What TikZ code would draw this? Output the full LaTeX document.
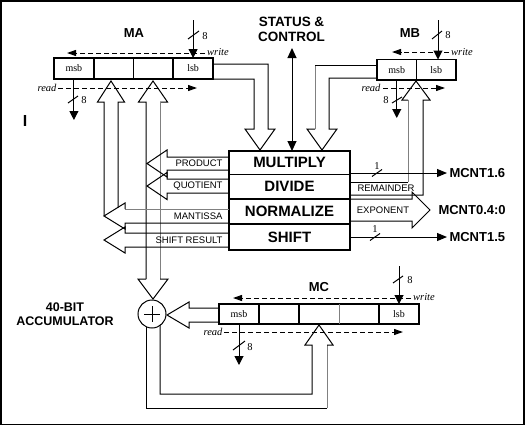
\documentclass[tikz,border=0pt]{standalone}
\usepackage{fontspec}
\setmainfont{Liberation Serif}
\newfontfamily\arial{Liberation Sans}
\usetikzlibrary{arrows.meta}
\begin{document}
\begin{tikzpicture}[x=1pt,y=-1pt,line width=1pt,
  rcell/.style={draw,line width=1.8pt,inner sep=0pt,outer sep=0pt,font=\fontsize{10}{10}\selectfont},
  bblk/.style={inner sep=0pt,outer sep=0pt,minimum width=121pt,font=\arial\bfseries\fontsize{15}{15}\selectfont},
  biglab/.style={font=\arial\bfseries\fontsize{13}{15}\selectfont,inner sep=0pt},
  smlab/.style={font=\arial\fontsize{9.5}{10}\selectfont,inner sep=0pt},
  numlab/.style={font=\fontsize{10.5}{10.5}\selectfont,inner sep=0pt},
  itlab/.style={font=\itshape\fontsize{10.5}{10.5}\selectfont,inner sep=0pt},
  sigarr/.style={-{Triangle[length=9pt,width=9pt]}},
  sigarrb/.style={-{Triangle[length=10pt,width=8pt]}},
  dsigarr/.style={dash pattern=on 5pt off 3pt,-{Triangle[length=9pt,width=6pt]}},
  mcntlab/.style={font=\arial\bfseries\fontsize{13}{13}\selectfont,inner sep=2pt,anchor=west},
  gline/.style={draw=gray}]
\useasboundingbox (0,0) rectangle (525,426);
\draw[line width=1.5pt] (0.75,0.75) rectangle (524,424.5);

% ---------- MA register ----------
\node[rcell,minimum width=39.75pt,minimum height=21pt] (ma1) at (73.9,68.5) {msb};
\node[rcell,minimum width=39.75pt,minimum height=21pt] (ma2) at (113.6,68.5) {};
\node[rcell,minimum width=39.75pt,minimum height=21pt] (ma3) at (153.4,68.5) {};
\node[rcell,minimum width=39.75pt,minimum height=21pt] (ma4) at (193.1,68.5) {lsb};
\node[biglab] (malab) at (134,33) {MA};
\coordinate (maw) at (193.1,20);
\draw[sigarr] (maw) -- (ma4.north);
\draw (188,39) -- (199,31);
\node[numlab] (ma8w) at (205,36) {8};
\coordinate (mawR) at (205,53);
\coordinate (mawL) at (67,53);
\draw[dsigarr] (mawR) -- (mawL);
\node[itlab] (mawt) at (218,52) {write};
\coordinate (marL) at (58,88);
\coordinate (marR) at (197,88);
\draw[dsigarr] (marL) -- (marR);
\node[itlab] (mart) at (47,88) {read};
\coordinate (mard) at (73.9,120);
\draw[sigarr] (ma1.south) -- (mard);
\draw (68,103) -- (78,96);
\node[numlab] (ma8r) at (84,100) {8};
\node[font=\arial\bfseries\fontsize{16}{16}\selectfont,inner sep=0pt] (stray) at (25,121) {I};

% ---------- MB register ----------
\node[rcell,minimum width=39.5pt,minimum height=20.5pt] (mb1) at (396.75,69.75) {msb};
\node[rcell,minimum width=39.5pt,minimum height=20.5pt] (mb2) at (436.25,69.75) {lsb};
\node[biglab] (mblab) at (410,33) {MB};
\coordinate (mbw) at (438,20);
\draw[sigarr] (mbw) -- (mbw |- mb2.north);
\draw (432,39) -- (442,31);
\node[numlab] (mb8w) at (448,35) {8};
\coordinate (mbwR) at (449,52);
\coordinate (mbwL) at (392,52);
\draw[dsigarr] (mbwR) -- (mbwL);
\node[itlab] (mbwt) at (462,52) {write};
\coordinate (mbrL) at (383,88);
\coordinate (mbrR) at (445,88);
\draw[dsigarr] (mbrL) -- (mbrR);
\node[itlab] (mbrt) at (371,88) {read};
\coordinate (mbrd) at (396.75,118);
\draw[sigarr] (mb1.south) -- (mbrd);
\draw (392,103) -- (402,97);
\node[numlab] (mb8r) at (386,100) {8};

% ---------- status & control ----------
\node[align=center,font=\arial\bfseries\fontsize{13.5}{15}\selectfont,inner sep=0pt] (sc) at (291.5,29.5) {STATUS \&\\CONTROL};

% ---------- main block ----------
\node[bblk,minimum height=23pt] (mul) at (289.5,162.5) {MULTIPLY};
\node[bblk,minimum height=25pt] (dvd) at (289.5,186.5) {DIVIDE};
\node[bblk,minimum height=25pt] (nrm) at (289.5,211.5) {NORMALIZE};
\node[bblk,minimum height=26pt] (shf) at (289.5,237) {SHIFT};
\draw[line width=1.8pt] (mul.north west) rectangle (shf.south east);
\draw[line width=1pt] (mul.south west) -- (mul.south east);
\draw[line width=1.8pt] (dvd.south west) -- (dvd.south east);
\draw[line width=1.8pt] (nrm.south west) -- (nrm.south east);

\coordinate (sct) at (292,48);
\draw[{Triangle[length=10pt,width=9pt]}-{Triangle[length=10pt,width=9pt]}] (sct) -- (sct |- mul.north);

% pipe MA -> block
\draw (213,79) -- (254,79) -- (254,129) -- (245,129) -- (260,150) -- (275,129) -- (268,129) -- (268,64) -- (213,64);
% pipe MB -> block
\draw (377,78) -- (329,78) -- (329,129) -- (337,129) -- (322,150) -- (307,129) -- (315,129);
\draw[gline] (315,129) -- (315,65);
\draw (315,65) -- (377,65);

% buses up to MA
\draw (104,216) -- (104,102) -- (97.5,102) -- (111,81) -- (124.5,102) -- (118,102) -- (118,207.5);
\draw (146,279) -- (146,102) -- (138.5,102) -- (153,81) -- (167.5,102) -- (160,102);
\draw[gline] (160,102) -- (160,279);
\draw (160,279) -- (168,279) -- (153,299) -- (138,279) -- (146,279);

% outputs to the left
\draw (229,157) -- (167,157) -- (167,150) -- (147,163.5) -- (167,177) -- (167,170) -- (229,170);
\draw (229,179) -- (167,179) -- (167,172.5) -- (147,186) -- (167,199.5) -- (167,193) -- (229,193);
\draw[gline] (229,209) -- (125,209);
\draw (125,209) -- (125,203) -- (104,216) -- (125,229) -- (125,223) -- (229,223);
\draw (229,233) -- (125,233) -- (125,227) -- (104,240) -- (125,253) -- (125,247) -- (229,247);
\node[smlab,anchor=east] (prodl) at (223,163.5) {PRODUCT};
\node[smlab,anchor=east] (quotl) at (223,186) {QUOTIENT};
\node[smlab,anchor=east] (mantl) at (223,216) {MANTISSA};
\node[smlab,anchor=east] (shrl) at (223,240) {SHIFT RESULT};

% remainder to MB
\draw (350,195) -- (423,195) -- (423,100) -- (430,100) -- (416,81) -- (402,100) -- (408,100);
\draw[gline] (408,100) -- (408,182);
\draw (408,182) -- (350,182);
\node[smlab] (reml) at (386,188.5) {REMAINDER};

% outputs to the right
\node[mcntlab] (m16) at (447,173) {MCNT1.6};
\draw[sigarrb] (350,173) -- (m16.west);
\draw (372,176.5) -- (382,169.5);
\node[numlab] (one1) at (377,166) {1};
\draw (350,199) -- (412,199) -- (412,192) -- (430,210) -- (412,228) -- (412,221) -- (350,221);
\node[smlab] (expl) at (383,210.5) {EXPONENT};
\node[mcntlab,inner sep=0pt] (m04) at (438,210) {MCNT0.4:0};
\node[mcntlab] (m15) at (447,237) {MCNT1.5};
\draw[sigarrb] (350,237) -- (m15.west);
\draw (370,240.5) -- (380,233.5);
\node[numlab] (one2) at (375,229) {1};

% ---------- MC register ----------
\node[inner sep=0pt,outer sep=0pt,minimum width=40pt,minimum height=20pt,font=\fontsize{10}{10}\selectfont] (mc1) at (239,314) {msb};
\node[inner sep=0pt,outer sep=0pt,minimum width=40pt,minimum height=20pt] (mc2) at (279,314) {};
\node[inner sep=0pt,outer sep=0pt,minimum width=40pt,minimum height=20pt] (mc3) at (319,314) {};
\node[inner sep=0pt,outer sep=0pt,minimum width=40pt,minimum height=20pt] (mc4) at (359,314) {};
\node[inner sep=0pt,outer sep=0pt,minimum width=40pt,minimum height=20pt,font=\fontsize{10}{10}\selectfont] (mc5) at (399,314) {lsb};
\draw[line width=1.8pt] (mc1.north west) rectangle (mc5.south east);
\draw[line width=1.8pt] (mc1.north east) -- (mc1.south east);
\draw[line width=1.8pt] (mc2.north east) -- (mc2.south east);
\draw[gline,line width=1pt] (mc3.north east) -- (mc3.south east);
\draw[line width=1.8pt] (mc4.north east) -- (mc4.south east);
\node[biglab] (mclab) at (319,287) {MC};
\coordinate (mcw) at (399,266);
\draw[sigarr] (mcw) -- (mcw |- mc5.north);
\draw (393,283) -- (403,276);
\node[numlab] (mc8w) at (410,280) {8};
\coordinate (mcwR) at (411,298);
\coordinate (mcwL) at (233,298);
\draw[dsigarr] (mcwR) -- (mcwL);
\node[itlab] (mcwt) at (424,297) {write};
\coordinate (mcrL) at (224,332);
\coordinate (mcrR) at (403,332);
\draw[dsigarr] (mcrL) -- (mcrR);
\node[itlab] (mcrt) at (213,332) {read};
\coordinate (mcrd) at (239,365);
\draw[sigarr] (mc1.south) -- (mcrd);
\draw (233,350) -- (245,341);
\node[numlab] (mc8r) at (250,347) {8};

% ---------- accumulator ----------
\draw (219,308) -- (189,308) -- (189,302) -- (167,315) -- (189,328) -- (189,322) -- (219,322);
\draw (146,314) -- (146,408) -- (327,408);
\draw[gline] (327,408) -- (327,345);
\draw (327,345) -- (333,345) -- (319,325) -- (305,345) -- (312,345) -- (312,394) -- (160,394) -- (160,314);
\node[circle,draw,fill=white,minimum size=28pt,inner sep=0pt] (acc) at (152,314) {};
\draw (152,306) -- (152,322);
\draw (144,314) -- (160,314);
\node[align=center,font=\arial\bfseries\fontsize{12.5}{14}\selectfont,inner sep=0pt] (acclab) at (65,314) {40-BIT\\ACCUMULATOR};
\end{tikzpicture}
\end{document}
